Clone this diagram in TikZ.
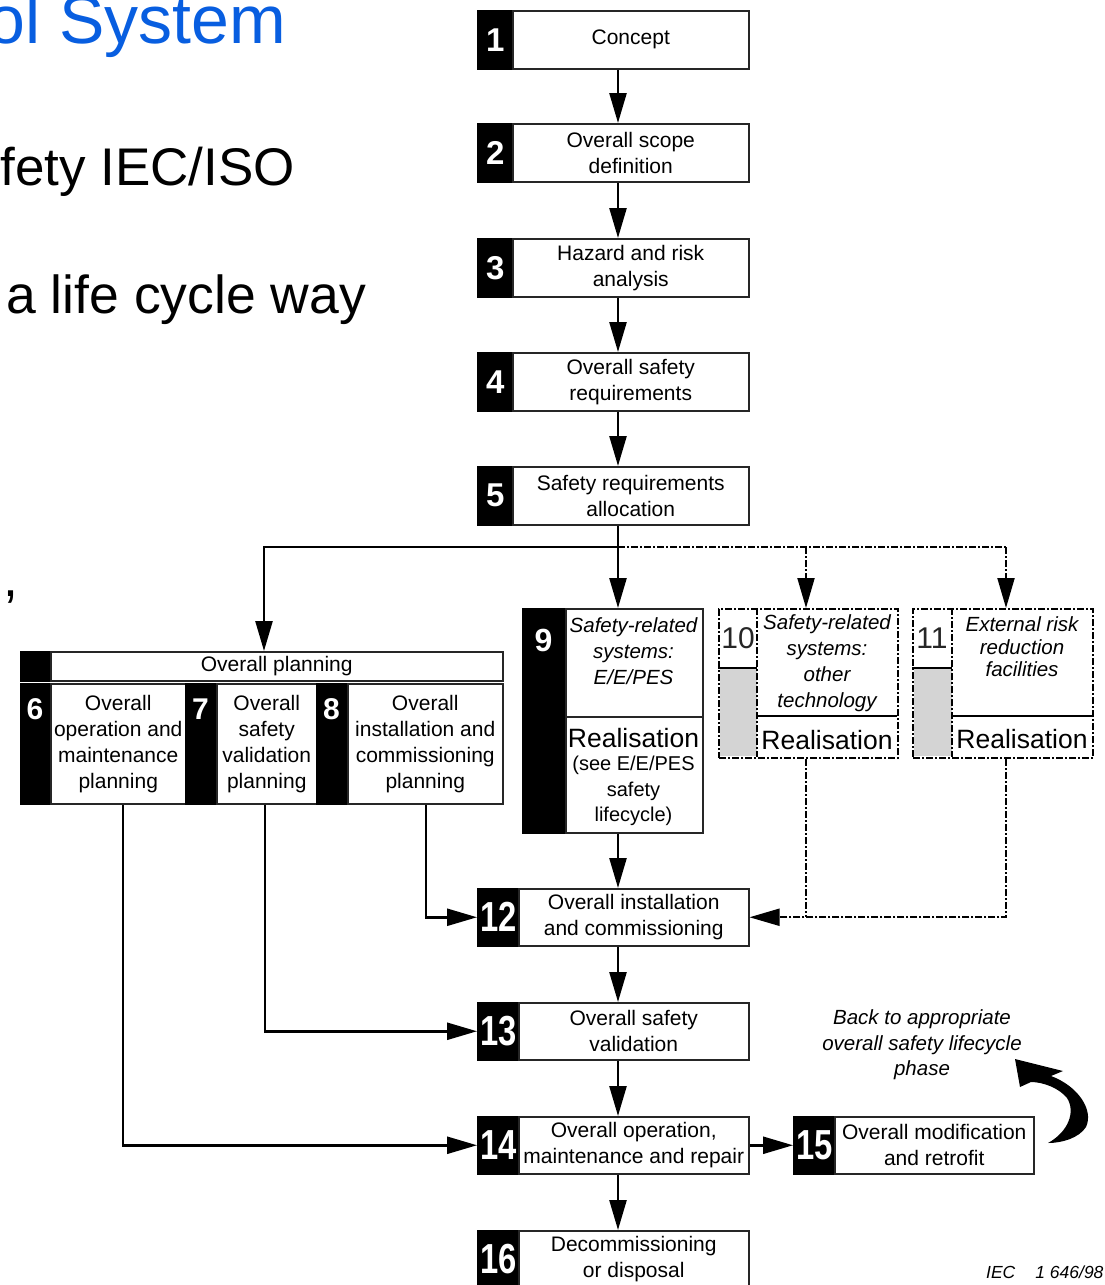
\documentclass[tikz,border=0pt]{standalone}
\usepackage{fontspec}
\setmainfont{Liberation Sans}
\usepackage{graphicx}
\usetikzlibrary{arrows.meta}
\definecolor{titleblue}{RGB}{8,94,224}
\definecolor{boxgray}{RGB}{212,212,212}
\newcommand{\myfs}[2]{\fontsize{#1}{#2}\selectfont}
\newcommand{\cnum}[1]{\scalebox{0.78}[1]{#1}}
\begin{document}
\begin{tikzpicture}[x=1pt,y=-1pt,
  box/.style={draw=black!85, line width=1.5pt, fill=white, inner sep=0pt, align=center, font=\myfs{21}{26}},
  numbox/.style={draw=black, fill=black, line width=1.5pt, text=white, inner sep=0pt, font=\bfseries\myfs{33}{33}},
  bignum/.style={font=\bfseries\myfs{42}{42}},
  numtxt/.style={text=white, inner sep=0pt, font=\bfseries\myfs{30}{30}},
  lbl/.style={inner sep=0pt, align=center, font=\myfs{21}{26}},
  conn/.style={line width=2.5pt, -{Triangle[length=30pt,width=17pt]}},
  dd/.style={line width=2pt, dash pattern=on 7pt off 2pt on 2pt off 2pt},
  ddarr/.style={dd, -{Triangle[length=30pt,width=17pt]}},
  ddbox/.style={draw=black, dd, fill=white, inner sep=0pt},
  real/.style={inner sep=0pt, font=\myfs{26.5}{27}},
  big/.style={inner sep=0pt, font=\myfs{53.5}{60}}
]
\useasboundingbox (0,0) rectangle (1104,1285);
\clip (0,0) rectangle (1104,1285);

% slide text
\node[big, text=titleblue, anchor=base east, font=\myfs{68}{70}] (ttl) at (286,43) {ol System};
\node[big, anchor=base east, font=\myfs{53}{60}] (l1) at (295,185) {fety IEC/ISO};
\node[big, anchor=base west] (l2) at (6,313) {a life cycle way};
\node[big, anchor=base west] (l3) at (3,596) {,};

% boxes 1-5
\node[numbox, minimum width=35pt, minimum height=58pt, anchor=north west] (n1) at (477,10) {1};
\node[box, minimum width=236pt, minimum height=58pt, anchor=north west] (b1) at (512,10) {Concept};
\node[numbox, minimum width=35pt, minimum height=58pt, anchor=north west] (n2) at (477,123) {2};
\node[box, minimum width=236pt, minimum height=58pt, anchor=north west] (b2) at (512,123) {Overall scope\\definition};
\node[numbox, minimum width=35pt, minimum height=58pt, anchor=north west] (n3) at (477,238) {3};
\node[box, minimum width=236pt, minimum height=58pt, anchor=north west] (b3) at (512,238) {Hazard and risk\\analysis};
\node[numbox, minimum width=35pt, minimum height=58pt, anchor=north west] (n4) at (477,352) {4};
\node[box, minimum width=236pt, minimum height=58pt, anchor=north west] (b4) at (512,352) {Overall safety\\requirements};
\node[numbox, minimum width=35pt, minimum height=58pt, anchor=north west] (n5) at (477,466) {5};
\node[box, minimum width=236pt, minimum height=58pt, anchor=north west] (b5) at (512,466) {Safety requirements\\allocation};

% overall planning
\node[numbox, minimum width=30pt, minimum height=29pt, anchor=north west] (nh) at (20,651) {};
\node[box, minimum width=452pt, minimum height=29pt, anchor=north west] (hdr) at (50,651) {Overall planning};
\node[numbox, minimum width=30pt, minimum height=120pt, anchor=north west] (n6) at (20,683) {};
\node[box, minimum width=135pt, minimum height=120pt, anchor=north west] (b6) at (50,683) {Overall\\operation and\\maintenance\\planning};
\node[numbox, minimum width=31pt, minimum height=120pt, anchor=north west] (n7) at (185,683) {};
\node[box, minimum width=100pt, minimum height=120pt, anchor=north west] (b7) at (216,683) {Overall\\safety\\validation\\planning};
\node[numbox, minimum width=31pt, minimum height=120pt, anchor=north west] (n8) at (316,683) {};
\node[box, minimum width=155pt, minimum height=120pt, anchor=north west] (b8) at (347,683) {Overall\\installation and\\commissioning\\planning};
\node[numtxt] (t6) at (35,709) {6};
\node[numtxt] (t7) at (200.5,709) {7};
\node[numtxt] (t8) at (331.5,709) {8};

% box 9
\node[numbox, minimum width=43pt, minimum height=224pt, anchor=north west] (n9) at (522,608) {};
\node[numtxt, font=\bfseries\myfs{32}{32}] (t9) at (543.5,640) {9};
\node[box, minimum width=137pt, minimum height=108pt, anchor=north west] (b9a) at (565,608) {};
\node[box, minimum width=137pt, minimum height=116pt, anchor=north west] (b9b) at (565,716) {};
\node[lbl, font=\itshape\myfs{20.5}{26}] (x9a) at (633.5,651) {Safety-related\\systems:\\E/E/PES};
\node[real] (r9) at (633.5,738) {Realisation};
\node[lbl, font=\myfs{20}{25.5}] (x9b) at (633.5,791) {(see E/E/PES\\safety\\lifecycle)};

% box 10
\node[ddbox, minimum width=179pt, minimum height=149pt, anchor=north west] (b10) at (718,608) {};
\fill[boxgray] (719.5,668) rectangle (757,756);
\draw[line width=1.2pt] (718,668) -- (757,668);
\draw[dd] (757,608) -- (757,757);
\draw[line width=2pt] (757,716) -- (897,716);
\node[inner sep=0pt, font=\myfs{30}{30}, text=black!85] (t10) at (738,638) {10};
\node[lbl, font=\itshape\myfs{20.5}{26}] (x10) at (827,663.5) {Safety-related\\systems:\\other\\technology};
\node[real] (r10) at (827,740) {Realisation};

% box 11
\node[ddbox, minimum width=180pt, minimum height=149pt, anchor=north west] (b11) at (912,608) {};
\fill[boxgray] (913.5,668) rectangle (952,756);
\draw[line width=1.2pt] (912,668) -- (952,668);
\draw[dd] (952,608) -- (952,757);
\draw[line width=2pt] (952,716) -- (1092,716);
\node[inner sep=0pt, font=\myfs{30}{30}, text=black!85] (t11) at (932,638) {11};
\node[lbl, font=\itshape\myfs{20.5}{22.5}] (x11) at (1022,647) {External risk\\reduction\\facilities};
\node[real] (r11) at (1022,739) {Realisation};

% boxes 12-16
\node[numbox, bignum, minimum width=41pt, minimum height=57pt, anchor=north west] (n12) at (477,888) {\cnum{12}};
\node[box, minimum width=230pt, minimum height=57pt, anchor=north west] (b12) at (518,888) {Overall installation\\and commissioning};
\node[numbox, bignum, minimum width=41pt, minimum height=57pt, anchor=north west] (n13) at (477,1002) {\cnum{13}};
\node[box, minimum width=230pt, minimum height=57pt, anchor=north west] (b13) at (518,1002) {Overall safety\\validation};
\node[numbox, bignum, minimum width=41pt, minimum height=57pt, anchor=north west] (n14) at (477,1116) {\cnum{14}};
\node[box, minimum width=230pt, minimum height=57pt, anchor=north west] (b14) at (518,1116) {Overall operation,\\maintenance and repair};
\node[numbox, bignum, minimum width=41pt, minimum height=57pt, anchor=north west] (n15) at (793,1116) {\cnum{15}};
\node[box, minimum width=199pt, minimum height=57pt, anchor=north west] (b15) at (834,1116) {Overall modification\\and retrofit};
\node[numbox, bignum, minimum width=41pt, minimum height=57pt, anchor=north west] (n16) at (477,1230) {\cnum{16}};
\node[box, minimum width=230pt, minimum height=57pt, anchor=north west] (b16) at (518,1230) {Decommissioning\\or disposal};

% notes
\node[lbl, font=\itshape\myfs{20.5}{25.5}] (bk) at (922,1045) {Back to appropriate\\overall safety lifecycle\\phase};
\node[inner sep=0pt, anchor=base west, font=\itshape\myfs{17.5}{17.5}] (iec) at (986,1278) {IEC\hspace{20pt}1 646/98};
\fill (1015,1059) -- (1063,1071) -- (1051,1076)
  .. controls (1078,1086) and (1094,1110) .. (1086,1127)
  .. controls (1079,1138) and (1062,1143) .. (1048,1143)
  .. controls (1068,1132) and (1076,1112) .. (1067,1098)
  .. controls (1059,1088) and (1043,1082) .. (1031,1082)
  -- (1020,1087) -- cycle;

% connectors
\coordinate (ax) at (618,0);
\coordinate (j) at (618,547);
\coordinate (p) at (264,547);
\coordinate (k10) at (806,547);
\coordinate (k11) at (1006,547);
\coordinate (c6) at (123,0);
\coordinate (c7) at (265,0);
\coordinate (c8) at (426,0);
\draw[conn] (b1.south -| ax) -- (b2.north -| ax);
\draw[conn] (b2.south -| ax) -- (b3.north -| ax);
\draw[conn] (b3.south -| ax) -- (b4.north -| ax);
\draw[conn] (b4.south -| ax) -- (b5.north -| ax);
\draw[line width=2.5pt] (b5.south -| ax) -- (j);
\draw[conn] (j) -- (p) -- (p |- hdr.north);
\draw[conn] (j) -- (j |- b9a.north);
\draw[dd] (j) -- (k11);
\draw[ddarr] (k10) -- (k10 |- b10.north);
\draw[ddarr] (k11) -- (k11 |- b11.north);
\draw[conn] (b9b.south -| ax) -- (b12.north -| ax);
\draw[dd] (b10.south -| k10) -- (k10 |- b12.east);
\draw[ddarr] (b11.south -| k11) |- (b12.east);
\draw[conn] (b8.south -| c8) |- (n12.west);
\draw[conn] (b7.south -| c7) |- (n13.west);
\draw[conn] (b6.south -| c6) |- (n14.west);
\draw[conn] (b12.south -| ax) -- (b13.north -| ax);
\draw[conn] (b13.south -| ax) -- (b14.north -| ax);
\draw[conn] (b14.south -| ax) -- (b16.north -| ax);
\draw[conn] (b14.east) -- (n15.west);
\end{tikzpicture}
\end{document}
